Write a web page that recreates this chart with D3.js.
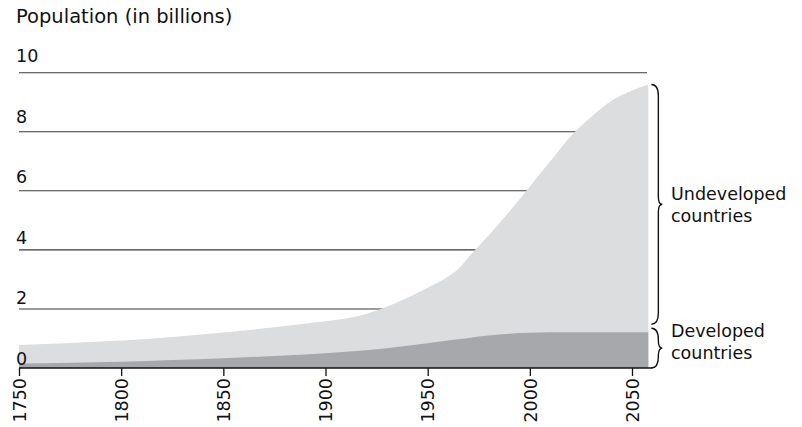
<!DOCTYPE html>
<html>
<head>
<meta charset="utf-8">
<script src="https://cdn.jsdelivr.net/npm/d3@7"></script>
<style>
  html, body { margin: 0; padding: 0; background: #fff; }
  svg { display: block; }
  text { font-family: "DejaVu Sans", sans-serif; fill: #111; }
</style>
</head>
<body>
<svg id="chart" width="802" height="427"></svg>
<script>
// World population, in billions
const years     = [1750, 1775, 1800, 1825, 1850, 1875, 1900, 1910, 1920, 1930, 1940, 1950, 1960, 1965, 1970, 1980, 1990, 2000, 2010, 2020, 2030, 2040, 2050, 2058];
const total     = [0.78, 0.85, 0.93, 1.05, 1.2, 1.38, 1.58, 1.68, 1.83, 2.07, 2.38, 2.72, 3.1, 3.35, 3.75, 4.5, 5.3, 6.15, 7.0, 7.85, 8.5, 9.05, 9.4, 9.6];
const developed = [0.15, 0.18, 0.21, 0.27, 0.33, 0.41, 0.5, 0.55, 0.6, 0.67, 0.75, 0.84, 0.93, 0.97, 1.02, 1.1, 1.16, 1.19, 1.21, 1.21, 1.21, 1.21, 1.21, 1.21];

const yTicks = [0, 2, 4, 6, 8, 10];
const xTicks = [1750, 1800, 1850, 1900, 1950, 2000, 2050];
const title = "Population (in billions)";
const groupLabels = [["Undeveloped", "countries"], ["Developed", "countries"]];

const data = years.map((yr, i) => ({ year: yr, total: total[i], dev: developed[i] }));

const svg = d3.select("#chart");

const x = d3.scaleLinear().domain([1750, 2050]).range([19, 632]);
const y = d3.scaleLinear().domain([0, 10]).range([368, 72.7]);
// tick labels sit above their gridlines, spaced a touch wider
const yLab = d3.scaleLinear().domain([0, 10]).range([365, 62]);

const gridRight = 647;
const areaRight = x(years[years.length - 1]);

// horizontal gridlines
svg.append("g").selectAll("line")
  .data(yTicks.filter(d => d > 0))
  .join("line")
  .attr("x1", x(1750)).attr("x2", gridRight)
  .attr("y1", d => y(d)).attr("y2", d => y(d))
  .attr("stroke", "#3a3a3a").attr("stroke-width", 1.1);

// stacked areas
const curve = d3.curveMonotoneX;
svg.append("path")
  .datum(data)
  .attr("fill", "#dcdddf")
  .attr("d", d3.area().x(d => x(d.year)).y0(y(0)).y1(d => y(d.total)).curve(curve));
svg.append("path")
  .datum(data)
  .attr("fill", "#a7a8ab")
  .attr("d", d3.area().x(d => x(d.year)).y0(y(0)).y1(d => y(d.dev)).curve(curve));

// y tick labels
svg.append("g").selectAll("text")
  .data(yTicks)
  .join("text")
  .attr("x", 16).attr("y", d => yLab(d))
  .attr("font-size", 17.5)
  .text(d => d);

// title
svg.append("text")
  .attr("x", 16).attr("y", 23)
  .attr("font-size", 19.5)
  .text(title);

// x axis
const xAxis = d3.axisBottom(x).tickValues(xTicks).tickSize(8).tickFormat(d3.format("d"));
const gx = svg.append("g").attr("transform", `translate(0,${y(0)})`).call(xAxis);
gx.select(".domain").attr("d", `M${x(1750)},0H${areaRight + 4}`).attr("stroke", "#111").attr("stroke-width", 1.6);
gx.selectAll(".tick line").attr("stroke", "#111").attr("stroke-width", 1.3);
gx.selectAll(".tick text")
  .attr("font-family", "DejaVu Sans, sans-serif")
  .attr("font-size", 17.5)
  .attr("fill", "#111")
  .attr("transform", "rotate(-90)")
  .attr("text-anchor", "end")
  .attr("x", -10).attr("y", 0).attr("dy", "0.36em");

// curly braces marking each group at the right edge
function brace(x0, y0, y1, w, tip) {
  const ym = (y0 + y1) / 2;
  const xs = x0 + w;
  return `M${x0},${y0} Q${xs},${y0} ${xs},${y0 + w * 1.6}` +
         ` L${xs},${ym - w * 1.1} Q${xs},${ym} ${xs + tip},${ym}` +
         ` Q${xs},${ym} ${xs},${ym + w * 1.1}` +
         ` L${xs},${y1 - w * 1.6} Q${xs},${y1} ${x0},${y1}`;
}
const last = data[data.length - 1];
const bx = areaRight + 3;
// each brace spans one band; the label's first line sits `lead` px from the brace tip
const braces = [
  { y0: y(last.total), y1: y(last.dev) - 8, lead: -4 },
  { y0: y(last.dev) - 4, y1: y(0), lead: -11 }
];
svg.append("g").selectAll("path")
  .data(braces)
  .join("path")
  .attr("d", d => brace(bx, d.y0, d.y1, 7, 4))
  .attr("fill", "none").attr("stroke", "#111").attr("stroke-width", 1.4);

// group labels beside the braces
const labelG = svg.append("g");
braces.forEach((b, i) => {
  const ym = (b.y0 + b.y1) / 2;
  const t = labelG.append("text").attr("x", 671).attr("font-size", 17.5);
  t.append("tspan").attr("x", 671).attr("y", ym + b.lead).text(groupLabels[i][0]);
  t.append("tspan").attr("x", 671).attr("y", ym + b.lead + 22).text(groupLabels[i][1]);
});
</script>
</body>
</html>
